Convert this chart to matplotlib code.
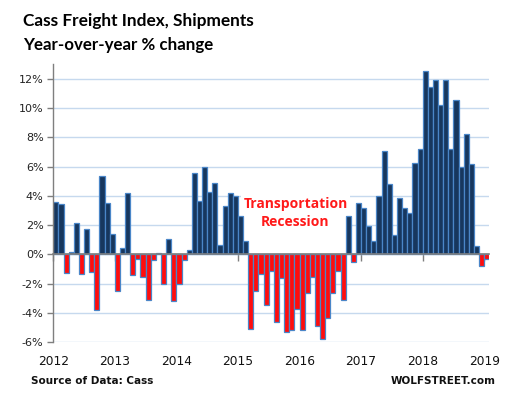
import numpy as np
import pandas as pd
import matplotlib
matplotlib.use("Agg")
import matplotlib.pyplot as plt

# monthly yoy % change, Jan 2012 .. Jan 2019
months = pd.date_range("2012-01-01", "2019-01-01", freq="MS")
yoy = [
    3.55, 3.46, -1.24, 0.16, 2.17, -1.33, 1.76, -1.19, -3.80, 5.33, 3.48, 1.42,      # 2012
    -2.47, 0.46, 4.16, -1.40, -0.30, -1.53, -3.11, -0.37, 0.07, -1.99, 1.08, -3.16,  # 2013
    -1.99, -0.37, 0.32, 5.54, 3.62, 6.00, 4.23, 4.85, 0.66, 3.30, 4.16, 3.96,        # 2014
    2.65, 0.94, -5.10, -2.47, -1.33, -3.46, -1.12, -4.62, -1.60, -5.31, -5.17, -3.73, # 2015
    -5.17, -2.63, -1.53, -4.92, -5.77, -4.35, -2.63, -1.12, -3.11, 2.65, -0.53, 3.48, # 2016
    3.14, 1.92, 0.94, 3.96, 7.05, 4.78, 1.35, 3.82, 3.20, 2.84, 6.22, 7.19,          # 2017
    12.52, 11.42, 11.92, 10.21, 11.92, 7.19, 10.55, 5.95, 8.19, 6.16, 0.59, -0.78,   # 2018
    -0.30,                                                                            # 2019
]
year_labels = [str(y) for y in range(2012, 2020)]
y_ticks = [-6, -4, -2, 0, 2, 4, 6, 8, 10, 12]

BLUE = "#17375E"
RED = "#FF0D0D"
EDGE = "#4A86C8"
GRID = "#C6D9EE"
AXIS = "#7F7F7F"


def main() -> None:
    vals = np.array(yoy)
    x = np.arange(len(vals)) + 0.5
    colors = [BLUE if v >= 0 else RED for v in vals]

    fig = plt.figure(figsize=(5.27, 3.98), dpi=100)
    ax = fig.add_axes([0.1011, 0.1399, 0.8274, 0.6993])

    ax.bar(x, vals, width=1.0, color=colors, edgecolor=EDGE, linewidth=0.9, zorder=2)

    ax.set_xlim(0, len(vals))
    ax.set_ylim(-6, 13)
    ax.set_yticks(y_ticks)
    ax.set_yticklabels([f"{t}%" for t in y_ticks], fontsize=8, color="#222222",
                       family="DejaVu Sans")
    ax.yaxis.grid(True, color=GRID, linewidth=1.0, zorder=0)
    ax.set_axisbelow(True)

    for side in ["top", "right"]:
        ax.spines[side].set_visible(False)
    ax.spines["left"].set_color(AXIS)
    ax.spines["left"].set_linewidth(1.0)
    ax.spines["left"].set_bounds(-6, 13)
    ax.spines["bottom"].set_position(("data", 0))
    ax.spines["bottom"].set_color(AXIS)
    ax.spines["bottom"].set_linewidth(1.2)
    ax.spines["bottom"].set_zorder(3)
    ax.tick_params(axis="y", length=4, color=AXIS, width=1.0, pad=3)

    year_pos = np.arange(0, len(vals) + 1, 12)
    ax.set_xticks(year_pos)
    ax.set_xticklabels([])
    ax.tick_params(axis="x", length=5, color=AXIS, width=1.0, direction="out")

    sec = ax.secondary_xaxis(0.0)
    sec.set_xticks(year_pos)
    sec.set_xticklabels(year_labels, fontsize=8.8, color="#111111", family="DejaVu Sans")
    sec.tick_params(length=0, pad=9)
    sec.spines["bottom"].set_visible(False)

    ax.text(47.2, 2.8, "Transportation\nRecession", ha="center", va="center",
            multialignment="center", color="#FF1A1A", fontsize=10, fontweight="bold",
            family="Open Sans", linespacing=1.35,
            bbox=dict(facecolor="white", edgecolor="none", pad=1.5), zorder=1.5)

    fig.text(0.044, 0.947, "Cass Freight Index, Shipments", ha="left", va="center",
             fontsize=12.4, fontweight="bold", family="Lato", color="black")
    fig.text(0.044, 0.886, "Year-over-year % change", ha="left", va="center",
             fontsize=12.2, fontweight="bold", family="Lato", color="black")
    fig.text(0.059, 0.043, "Source of Data: Cass", ha="left", va="center",
             fontsize=7.5, fontweight="bold", family="DejaVu Sans", color="#111111")
    fig.text(0.941, 0.043, "WOLFSTREET.com", ha="right", va="center",
             fontsize=7.5, fontweight="bold", family="DejaVu Sans", color="#111111")

    fig.savefig("out.png", dpi=100, facecolor="white")
    plt.close(fig)


if __name__ == "__main__":
    main()
